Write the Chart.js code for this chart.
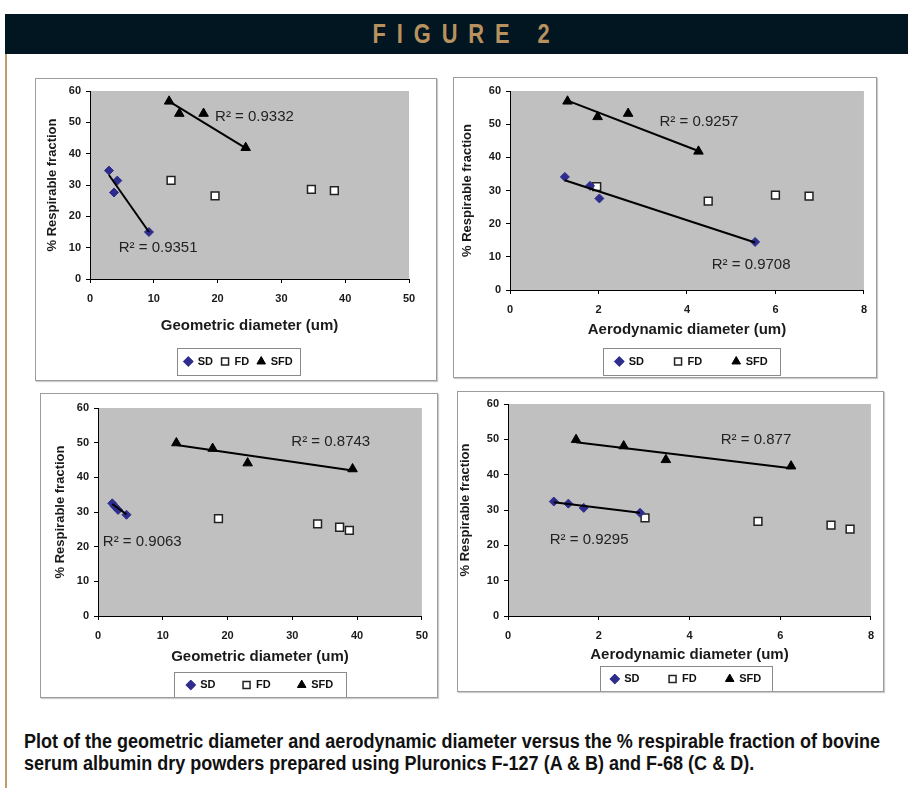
<!DOCTYPE html>
<html>
<head>
<meta charset="utf-8">
<script src="https://cdn.jsdelivr.net/npm/chart.js@4.4.1/dist/chart.umd.min.js"></script>
<style>
  html, body { margin: 0; padding: 0; background: #fff; }
  body { width: 908px; height: 797px; position: relative; overflow: hidden;
         font-family: "Liberation Sans", Arial, sans-serif; }
  #header { position: absolute; left: 5px; top: 14px; width: 903px; height: 40px;
            background: #021622; color: #b8925e; box-sizing: border-box; padding-left: 21px;
            font-weight: bold; font-size: 28px; line-height: 40px; text-align: center; }
  #header span { display: inline-block; letter-spacing: 14px; transform: scaleX(0.78); }
  #rule { position: absolute; left: 5px; top: 54px; width: 2px; height: 734px; background: #c49a6c; }
  .panel { position: absolute; box-sizing: border-box; border: 1px solid #9c9c9c; background: #fff;
           box-shadow: 1px 1px 1px rgba(0,0,0,0.2); }
  .panel canvas { position: absolute; left: 0; top: 0; }
  .tag { position: absolute; font-weight: bold; font-size: 20px; line-height: 20px; color: #111; }
  #caption { position: absolute; left: 24px; top: 731px; white-space: nowrap; transform-origin: 0 0;
             font-weight: bold; font-size: 19.5px; line-height: 21.5px; color: #111; }
  #caption div { display: inline-block; }
</style>
</head>
<body>
<div id="header"><span>FIGURE 2</span></div>
<div id="rule"></div>
<div class="tag" style="left:50px;top:353px">A</div>
<div class="tag" style="left:462px;top:354px">B</div>
<div class="tag" style="left:45px;top:672px">C</div>
<div class="tag" style="left:470px;top:665px">D</div>
<div id="caption"><div id="cap1">Plot of the geometric diameter and aerodynamic diameter versus the % respirable fraction of bovine</div><br><div>serum albumin dry powders prepared using Pluronics F-127 (A &amp; B) and F-68 (C &amp; D).</div></div>

<script>
// ===============================
// DATA
// ===============================
const SERIES = ["SD", "FD", "SFD"];
const GEO_TICKS  = [0, 10, 20, 30, 40, 50];
const AERO_TICKS = [0, 2, 4, 6, 8];
const RF_TICKS   = [0, 10, 20, 30, 40, 50, 60];

// panel A - geometric, F-127
const A_SD  = [[2.97, 34.6], [4.28, 31.4], [3.76, 27.6], [9.24, 15.0]];
const A_FD  = [[12.7, 31.5], [19.6, 26.5], [34.7, 28.6], [38.3, 28.2]];
const A_SFD = [[12.4, 56.7], [14.0, 52.8], [17.8, 52.8], [24.4, 41.9]];
const A_SD_TREND  = [[2.97, 33.2], [9.24, 15.0]];
const A_SFD_TREND = [[12.4, 56.7], [24.4, 41.8]];
const A_R2 = ["0.9332", "0.9351"];

// panel B - aerodynamic, F-127
const B_SD  = [[1.24, 34.1], [1.81, 31.4], [2.02, 27.6], [5.54, 14.5]];
const B_FD  = [[1.96, 31.2], [4.48, 26.8], [6.0, 28.6], [6.76, 28.3]];
const B_SFD = [[1.30, 56.9], [1.98, 52.2], [2.67, 53.2], [4.26, 41.8]];
const B_SD_TREND  = [[1.24, 33.1], [5.54, 14.3]];
const B_SFD_TREND = [[1.30, 57.1], [4.26, 41.9]];
const B_R2 = ["0.9257", "0.9708"];

// panel C - geometric, F-68
const C_SD  = [[2.2, 32.5], [2.6, 31.6], [3.1, 30.6], [4.4, 29.2]];
const C_FD  = [[18.6, 28.1], [33.9, 26.6], [37.3, 25.6], [38.8, 24.7]];
const C_SFD = [[12.1, 49.9], [17.7, 48.3], [23.1, 44.1], [39.3, 42.4]];
const C_SD_TREND  = [[2.2, 32.3], [4.4, 29.3]];
const C_SFD_TREND = [[12.1, 49.3], [39.3, 42.0]];
const C_R2 = ["0.8743", "0.9063"];

// panel D - aerodynamic, F-68
const D_SD  = [[1.01, 32.4], [1.33, 31.8], [1.67, 30.6], [2.91, 29.2]];
const D_FD  = [[3.02, 27.8], [5.51, 26.8], [7.12, 25.7], [7.54, 24.6]];
const D_SFD = [[1.50, 49.9], [2.55, 48.1], [3.48, 44.2], [6.24, 42.4]];
const D_SD_TREND  = [[1.01, 32.2], [2.91, 29.2]];
const D_SFD_TREND = [[1.50, 49.2], [6.24, 41.8]];
const D_R2 = ["0.877", "0.9295"];

// ===============================
// LAYOUT (page pixels)
// ===============================
const PANELS = [
  { box: [35, 78, 437, 381], plot: [90, 91, 409, 279], yTitleX: 52, xTitleY: 326,
    legend: [177, 348, 300, 375], lpad: 8, xTitle: "Geometric diameter (um)", xTicks: GEO_TICKS,
    sd: A_SD, fd: A_FD, sfd: A_SFD, sdTrend: A_SD_TREND, sfdTrend: A_SFD_TREND,
    r2: A_R2, r2At: [[19.6, 51.7], [4.5, 9.9]] },
  { box: [453, 77, 877, 378], plot: [510, 91, 870, 290], yTitleX: 467, xTitleY: 330,
    legend: [603, 348, 780, 375], lpad: 30, xTitle: "Aerodynamic diameter (um)", xTicks: AERO_TICKS,
    sd: B_SD, fd: B_FD, sfd: B_SFD, sdTrend: B_SD_TREND, sfdTrend: B_SFD_TREND,
    r2: B_R2, r2At: [[3.38, 50.7], [4.56, 7.5]] },
  { box: [40, 393, 438, 698], plot: [98, 408, 433, 616], yTitleX: 60, xTitleY: 657,
    legend: [174, 672, 346, 698], lpad: 27, xTitle: "Geometric diameter (um)", xTicks: GEO_TICKS,
    sd: C_SD, fd: C_FD, sfd: C_SFD, sdTrend: C_SD_TREND, sfdTrend: C_SFD_TREND,
    r2: C_R2, r2At: [[29.85, 50.2], [0.75, 21.4]] },
  { box: [457, 391, 884, 692], plot: [508, 404, 873, 616], yTitleX: 465, xTitleY: 655,
    legend: [600, 666, 772, 692], lpad: 29, xTitle: "Aerodynamic diameter (um)", xTicks: AERO_TICKS,
    sd: D_SD, fd: D_FD, sfd: D_SFD, sdTrend: D_SD_TREND, sfdTrend: D_SFD_TREND,
    r2: D_R2, r2At: [[4.69, 49.8], [0.92, 21.5]] },
];

// ===============================
// PLUGINS
// ===============================
const plotBg = {
  id: "plotBg",
  beforeDraw(chart) {
    const { ctx, chartArea: a } = chart;
    ctx.save();
    ctx.fillStyle = "#c0c0c0";
    ctx.fillRect(a.left, a.top, a.width, a.height);
    ctx.restore();
  },
};

const r2Text = {
  id: "r2Text",
  afterDatasetsDraw(chart, args, opts) {
    const { ctx, scales: { x, y } } = chart;
    ctx.save();
    ctx.font = '15px "Liberation Sans", Arial, sans-serif';
    ctx.fillStyle = "#222";
    ctx.textAlign = "left";
    ctx.textBaseline = "middle";
    (opts.items || []).forEach(it => {
      ctx.fillText(it.text, x.getPixelForValue(it.x), y.getPixelForValue(it.y));
    });
    ctx.restore();
  },
};

// moves the legend into its framed box and draws the frame
const legendBox = {
  id: "legendBox",
  afterLayout(chart, args, o) {
    const lg = chart.legend;
    if (!lg || !o.box) return;
    const [x0, y0, x1, y1] = o.box;
    const dx = (x0 + x1) / 2 - (lg.left + lg.right) / 2;
    lg.left += dx;
    lg.right += dx;
    const top = (y0 + y1) / 2 - o.pad - o.fontSize / 2;
    lg.top = top;
    lg.bottom = top + 2 * o.pad + o.fontSize;
    lg.height = lg.bottom - lg.top;
  },
  afterDraw(chart, args, o) {
    if (!o.box) return;
    const [x0, y0, x1, y1] = o.box;
    const ctx = chart.ctx;
    ctx.save();
    ctx.strokeStyle = "#8a8a8a";
    ctx.lineWidth = 1;
    ctx.strokeRect(Math.round(x0) + 0.5, Math.round(y0) + 0.5, Math.round(x1 - x0), Math.round(y1 - y0));
    ctx.restore();
  },
};

Chart.defaults.font.family = '"Liberation Sans", Arial, sans-serif';
Chart.defaults.color = "#1a1a1a";

const toPts = arr => arr.map(([x, y]) => ({ x, y }));

function makePanel(p) {
  const [bx0, by0, bx1, by1] = p.box;
  const wrap = document.createElement("div");
  wrap.className = "panel";
  wrap.style.left = bx0 + "px";
  wrap.style.top = by0 + "px";
  wrap.style.width = (bx1 - bx0) + "px";
  wrap.style.height = (by1 - by0) + "px";
  document.body.appendChild(wrap);

  const cx0 = bx0 + 1, cy0 = by0 + 1;
  const CW = bx1 - bx0 - 2, CH = by1 - by0 - 2;
  const cv = document.createElement("canvas");
  cv.width = CW; cv.height = CH;
  cv.style.width = CW + "px"; cv.style.height = CH + "px";
  wrap.appendChild(cv);

  const L = p.plot[0] - cx0, T = p.plot[1] - cy0, R = p.plot[2] - cx0, B = p.plot[3] - cy0;
  const yHalf = 13 * 1.2 / 2, xHalf = 15 * 1.2 / 2;
  const padLeft = Math.max(0, p.yTitleX - cx0 - yHalf);
  const yW = L - padLeft;
  const xH = (p.xTitleY - cy0) + xHalf - B;
  const padBottom = CH - B - xH - 1;

  const legendRel = [p.legend[0] - cx0, p.legend[1] - cy0, p.legend[2] - cx0, p.legend[3] - cy0];
  const yTicks = RF_TICKS;

  return new Chart(cv, {
    type: "scatter",
    data: {
      datasets: [
        { label: "SD trend", isTrend: true, data: toPts(p.sdTrend), showLine: true,
          borderColor: "#000", borderWidth: 2, pointRadius: 0, pointHoverRadius: 0 },
        { label: "SFD trend", isTrend: true, data: toPts(p.sfdTrend), showLine: true,
          borderColor: "#000", borderWidth: 2, pointRadius: 0, pointHoverRadius: 0 },
        { label: SERIES[0], data: toPts(p.sd), pointStyle: "rectRot", pointRadius: 4.5,
          backgroundColor: "#2e2d8e", borderColor: "#2e2d8e", borderWidth: 1 },
        { label: SERIES[1], data: toPts(p.fd), pointStyle: "rect", pointRadius: 5.5,
          backgroundColor: "#ffffff", borderColor: "#222", borderWidth: 1.5 },
        { label: SERIES[2], data: toPts(p.sfd), pointStyle: "triangle", pointRadius: 5.5,
          backgroundColor: "#000", borderColor: "#000", borderWidth: 1 },
      ],
    },
    options: {
      responsive: false,
      animation: false,
      events: [],
      layout: { autoPadding: false, padding: { left: padLeft, right: CW - R, top: T, bottom: padBottom } },
      scales: {
        x: {
          type: "linear", position: "bottom",
          min: p.xTicks[0], max: p.xTicks[p.xTicks.length - 1],
          afterBuildTicks: s => { s.ticks = p.xTicks.map(v => ({ value: v })); },
          afterFit: s => { s.height = xH; },
          grid: { drawOnChartArea: false, drawTicks: true, tickLength: 4, tickColor: "#000" },
          border: { display: true, color: "#000", width: 1 },
          ticks: { padding: 9, autoSkip: false, maxRotation: 0, color: "#1a1a1a",
                   font: { size: 11, weight: "bold" } },
          title: { display: true, text: p.xTitle, color: "#1a1a1a", padding: { top: 0, bottom: 0 },
                   font: { size: 15, weight: "bold" } },
        },
        y: {
          type: "linear", position: "left",
          min: yTicks[0], max: yTicks[yTicks.length - 1],
          afterBuildTicks: s => { s.ticks = yTicks.map(v => ({ value: v })); },
          afterFit: s => { s.width = yW; },
          grid: { drawOnChartArea: false, drawTicks: true, tickLength: 4, tickColor: "#000" },
          border: { display: true, color: "#000", width: 1 },
          ticks: { padding: 5, autoSkip: false, color: "#1a1a1a", font: { size: 11, weight: "bold" } },
          title: { display: true, text: "% Respirable fraction", color: "#1a1a1a",
                   padding: { top: 0, bottom: 0 }, font: { size: 13, weight: "bold" } },
        },
      },
      plugins: {
        tooltip: { enabled: false },
        legend: {
          position: "bottom",
          maxHeight: 1,
          labels: {
            usePointStyle: true, boxWidth: 8, boxHeight: 7, padding: p.lpad, color: "#111",
            font: { size: 11, weight: "bold" },
            filter: (item, data) => !data.datasets[item.datasetIndex].isTrend,
          },
        },
        legendBox: { box: legendRel, pad: p.lpad, fontSize: 11 },
        r2Text: { items: p.r2.map((t, i) => ({ text: "R\u00b2 = " + t, x: p.r2At[i][0], y: p.r2At[i][1] })) },
      },
    },
    plugins: [plotBg, r2Text, legendBox],
  });
}

PANELS.forEach(makePanel);

// squeeze the caption to the condensed width of the original
const cap = document.getElementById("caption");
const k = 856 / document.getElementById("cap1").getBoundingClientRect().width;
cap.style.transform = "scaleX(" + k.toFixed(3) + ")";
</script>
</body>
</html>
